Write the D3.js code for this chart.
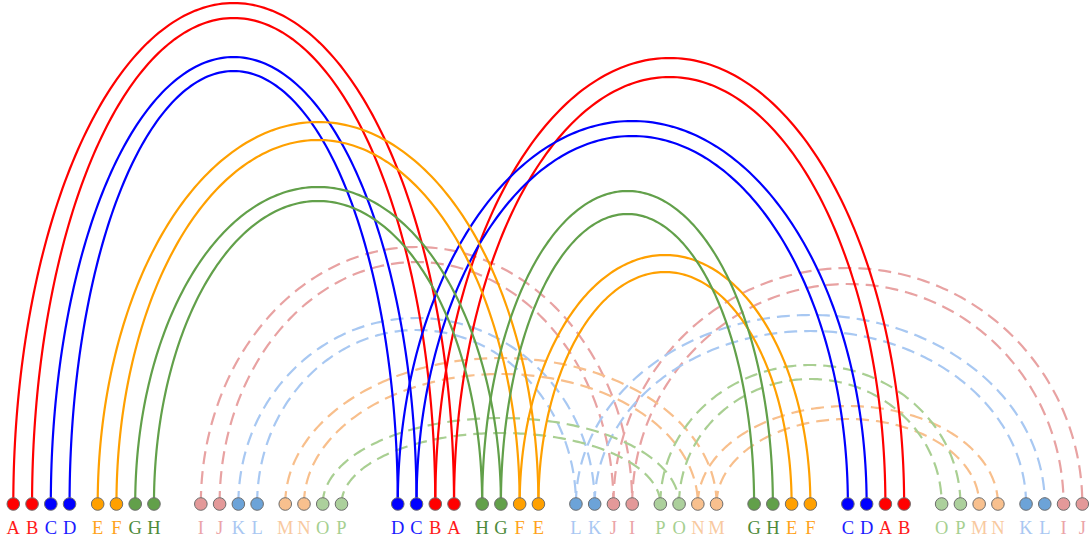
<!DOCTYPE html>
<html>
<head>
<meta charset="utf-8">
<script src="https://cdn.jsdelivr.net/npm/d3@7"></script>
<style>
  html, body { margin: 0; padding: 0; background: #fff; }
  svg { display: block; }
  .label { font-family: "Liberation Serif", "DejaVu Serif", serif; font-size: 18.5px; text-anchor: middle; }
</style>
</head>
<body>
<svg id="chart"></svg>
<script>
// node sequence, in groups of four, with the slot where each group starts
const groups = ['ABCD', 'EFGH', 'IJKL', 'MNOP', 'DCBA', 'HGFE', 'LKJI', 'PONM', 'GHEF', 'CDAB', 'OPMN', 'KLIJ'];
const groupStart = [0, 4.5, 10, 14.5, 20.5, 25, 30, 34.5, 39.5, 44.5, 49.5, 54];

const letters = ['A', 'B', 'C', 'D', 'E', 'F', 'G', 'H', 'I', 'J', 'K', 'L', 'M', 'N', 'O', 'P'];
// arc heights: 1st -> 2nd occurrence, 2nd -> 3rd occurrence
const firstHeights = [501, 486, 447, 433, 382, 364, 317, 303, 257, 242, 186, 174, 146, 130, 86, 71];
const secondHeights = [427, 446, 368, 383, 232, 249, 290, 313, 220, 236, 173, 189, 85, 98, 125, 139];
const dashedLetters = ['I', 'J', 'K', 'L', 'M', 'N', 'O', 'P'];

const lineColor = {
  A: '#ff0000', B: '#ff0000', C: '#0000ff', D: '#0000ff',
  E: '#ffa000', F: '#ffa000', G: '#62a04a', H: '#62a04a',
  I: '#e8a2a2', J: '#e8a2a2', K: '#a8c8f2', L: '#a8c8f2',
  M: '#f8bf8c', N: '#f8bf8c', O: '#a9cf92', P: '#a9cf92'
};
const nodeColor = {
  A: '#ff0000', B: '#ff0000', C: '#0000ff', D: '#0000ff',
  E: '#ffa000', F: '#ffa000', G: '#62a04a', H: '#62a04a',
  I: '#e39999', J: '#e39999', K: '#6ca3d8', L: '#6ca3d8',
  M: '#f8c08e', N: '#f8c08e', O: '#acd09c', P: '#acd09c'
};
const labelColor = {
  A: '#ff1a1a', B: '#ff1a1a', C: '#1a1aff', D: '#1a1aff',
  E: '#ffa31a', F: '#ffa31a', G: '#4d8a3a', H: '#4d8a3a',
  I: '#eba4a8', J: '#eba4a8', K: '#a9c7f2', L: '#a9c7f2',
  M: '#f8c9a0', N: '#f8c9a0', O: '#a6cf90', P: '#a6cf90'
};

const width = 1089;
const height = 545;

const svg = d3.select('#chart')
  .attr('width', width)
  .attr('height', height);

const x = d3.scaleLinear().domain([0, 57]).range([13.3, 1082.3]);
const y = d3.scaleLinear().domain([0, 500]).range([504, 4]);

const nodes = [];
groups.forEach((g, gi) => {
  g.split('').forEach((ch, i) => {
    nodes.push({ letter: ch, pos: groupStart[gi] + i });
  });
});

const arcs = [];
letters.forEach((ch, li) => {
  const occ = nodes.filter(n => n.letter === ch).map(n => n.pos);
  arcs.push({ letter: ch, from: occ[0], to: occ[1], h: firstHeights[li] });
  arcs.push({ letter: ch, from: occ[1], to: occ[2], h: secondHeights[li] });
});

// half ellipse between the two nodes, drawn as a sampled line
const line = d3.line().x(d => d[0]).y(d => d[1]);
const arcPath = (d) => {
  const x1 = x(Math.min(d.from, d.to));
  const x2 = x(Math.max(d.from, d.to));
  const cx = (x1 + x2) / 2;
  const rx = (x2 - x1) / 2;
  const pts = d3.range(0, 181).map(i => {
    const t = Math.PI - i * Math.PI / 180;
    return [cx + rx * Math.cos(t), y(d.h * Math.sin(t))];
  });
  return line(pts);
};

const solid = arcs.filter(a => dashedLetters.indexOf(a.letter) < 0);
const dashed = arcs.filter(a => dashedLetters.indexOf(a.letter) >= 0);

svg.append('g')
  .selectAll('path')
  .data(dashed)
  .enter()
  .append('path')
  .attr('d', arcPath)
  .attr('fill', 'none')
  .attr('stroke', d => lineColor[d.letter])
  .attr('stroke-width', 2.2)
  .attr('stroke-dasharray', '13,7');

svg.append('g')
  .selectAll('path')
  .data(solid)
  .enter()
  .append('path')
  .attr('d', arcPath)
  .attr('fill', 'none')
  .attr('stroke', d => lineColor[d.letter])
  .attr('stroke-width', 2.2);

svg.append('g')
  .selectAll('circle')
  .data(nodes)
  .enter()
  .append('circle')
  .attr('cx', d => x(d.pos))
  .attr('cy', y(0))
  .attr('r', 6.3)
  .attr('fill', d => nodeColor[d.letter])
  .attr('stroke', '#6e6e6e')
  .attr('stroke-width', 1);

svg.append('g')
  .selectAll('text')
  .data(nodes)
  .enter()
  .append('text')
  .attr('class', 'label')
  .attr('x', d => x(d.pos))
  .attr('y', 534)
  .attr('fill', d => labelColor[d.letter])
  .text(d => d.letter);
</script>
</body>
</html>
